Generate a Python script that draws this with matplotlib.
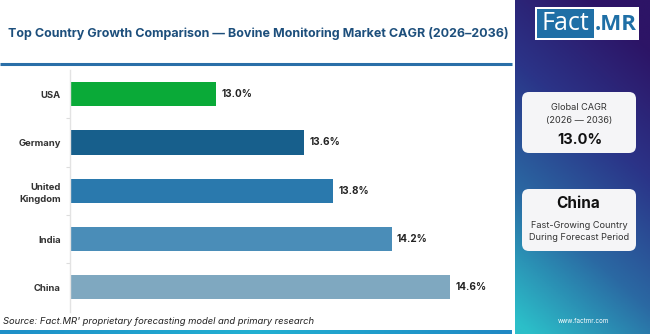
import numpy as np
import matplotlib
matplotlib.use("Agg")
from matplotlib import pyplot as plt
from matplotlib.colors import LinearSegmentedColormap
from matplotlib.patches import FancyBboxPatch, Rectangle

countries = ["USA", "Germany", "United\nKingdom", "India", "China"]
cagr = [13.0, 13.6, 13.8, 14.2, 14.6]
bar_colors = ["#0aaa38", "#175f8c", "#2a79ad", "#4a8db8", "#7fa8c0"]

title = "Top Country Growth Comparison \u2014 Bovine Monitoring Market CAGR (2026\u20132036)"
source = "Source: Fact.MR' proprietary forecasting model and primary research"
global_cagr = "13.0%"
lead_country = "China"

W, H = 650, 334
plt.rcParams["font.family"] = ["Inter", "DejaVu Sans"]

fig = plt.figure(figsize=(W / 100, H / 100), dpi=100)


def fx(x):
    return x / W


def fy(y):
    return 1 - y / H


# right side panel with diagonal gradient
pax = fig.add_axes([fx(515), 0, fx(W - 515), 1])
pax.set_axis_off()
u = np.linspace(0, 1, 60)
v = np.linspace(0, 1, 160)
U, V = np.meshgrid(u, v)
s = np.clip(0.85 * V + 0.3 * (1 - U) - 0.12, 0, 1)
panel_cmap = LinearSegmentedColormap.from_list(
    "panel", ["#2d1466", "#2b3488", "#2a69a3", "#2cbfc9"])
pax.imshow(s, cmap=panel_cmap, aspect="auto", extent=[0, 1, 1, 0])
pax.set_xlim(0, 1)
pax.set_ylim(1, 0)

# overlay for the panel contents in pixel coords
ov = fig.add_axes([0, 0, 1, 1], facecolor="none")
ov.set_axis_off()

# logo
ov.add_patch(Rectangle((535, 7), 104, 33, facecolor="white", edgecolor="none"))
ov.add_patch(Rectangle((537, 9), 57, 29, facecolor="#1f6fa6", edgecolor="none"))
ov.text(565, 24, "Fact", color="white", fontsize=18, ha="center", va="center",
        family=["Open Sans", "DejaVu Sans"])
ov.text(616, 24, ".MR", color="#1f6fa6", fontsize=16, fontweight="bold",
        ha="center", va="center", family=["Open Sans", "DejaVu Sans"])

# cards
for y0, h in [(92, 61), (189, 62)]:
    ov.add_patch(FancyBboxPatch((522 + 4, y0 + 4), 114 - 8, h - 8,
                                boxstyle="round,pad=4,rounding_size=7",
                                facecolor="#f5f5f7", edgecolor="none"))
ov.text(579, 108, "Global CAGR", fontsize=6.6, color="#333333", ha="center", va="center")
ov.text(579, 120, "(2026 \u2014 2036)", fontsize=6.6, color="#333333", ha="center", va="center")
ov.text(580, 140, global_cagr, fontsize=10.5, fontweight="bold", color="#111111",
        ha="center", va="center")
ov.text(578, 203, lead_country, fontsize=11, fontweight="bold", color="#111111",
        ha="center", va="center")
ov.text(579, 225, "Fast-Growing Country", fontsize=6.6, color="#333333", ha="center", va="center")
ov.text(579, 237, "During Forecast Period", fontsize=6.6, color="#333333", ha="center", va="center")
ov.text(583, 321, "www.factmr.com", fontsize=4.5, color="white", ha="center", va="center")

# title, rule, source, bottom strip
ov.text(8, 34, title, fontsize=9.0, fontweight="bold", color="#1d4f7c", ha="left", va="center")
ov.plot([0, 512], [64, 64], color="#2a6fa8", lw=2.2, solid_capstyle="butt")
ov.text(3, 322, source, fontsize=6.8, style="italic", color="#222222", ha="left", va="center")
strip = np.linspace(0, 1, 200).reshape(1, -1)
strip_cmap = LinearSegmentedColormap.from_list("strip", ["#1e8fc8", "#22b0d2", "#1f88c4"])
ov.imshow(strip, cmap=strip_cmap, aspect="auto", extent=[0, 512, 334, 330])
ov.set_xlim(0, W)
ov.set_ylim(H, 0)

# bar chart
ax = fig.add_axes([fx(70), fy(311.5), fx(509 - 70), (311.5 - 70) / H])
ypos = np.arange(len(countries))
ax.barh(ypos, cagr, height=0.5, color=bar_colors)
ax.set_xlim(12.0, 15.0)
ax.set_ylim(4.5, -0.5)
ax.set_yticks(ypos)
ax.set_yticklabels(countries, fontsize=6.8, fontweight="bold", color="#333333",
                   linespacing=1.5)
ax.set_yticks(ypos[:-1] + 0.5, minor=True)
ax.tick_params(axis="y", which="major", length=0, pad=6.5)
ax.tick_params(axis="y", which="minor", length=3, color="#dddddd", width=0.8)
ax.set_xticks([])
for side in ["top", "right", "bottom"]:
    ax.spines[side].set_visible(False)
ax.spines["left"].set_color("#e3e3e3")
ax.spines["left"].set_linewidth(1)
for y, val in zip(ypos, cagr):
    ax.text(val + 0.035, y, f"{val:.1f}%", fontsize=7.2, fontweight="bold",
            color="#222222", ha="left", va="center")
ax.set_facecolor("none")

fig.savefig("out.png", dpi=100)
